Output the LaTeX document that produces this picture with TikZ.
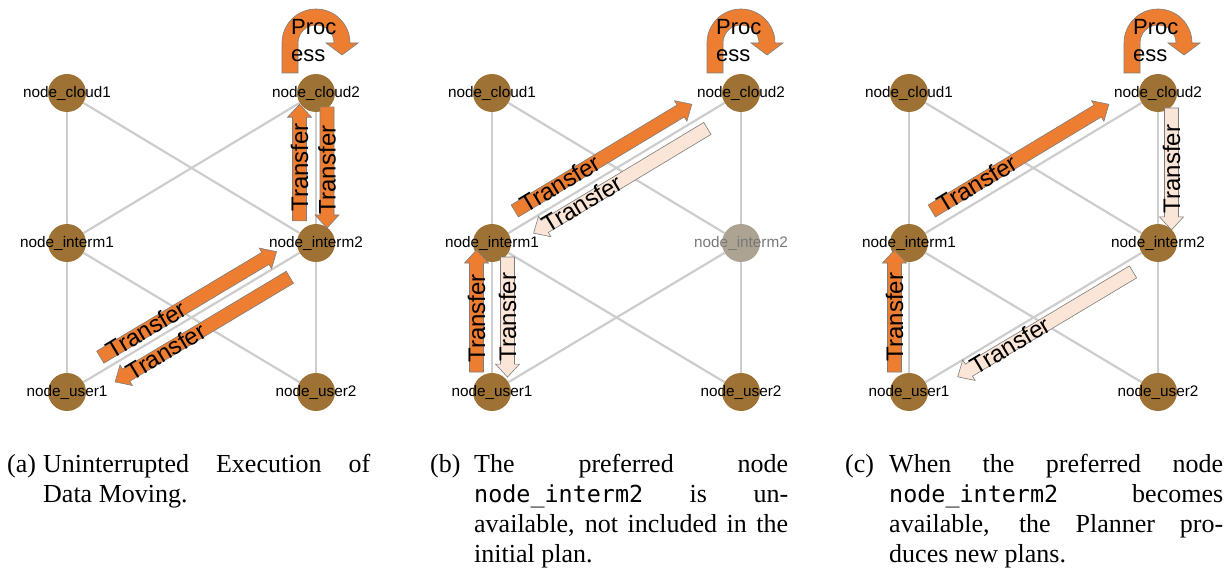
\documentclass[tikz,border=0pt]{standalone}
\usepackage{fontspec}
\setmainfont{Liberation Serif}
\setsansfont{Liberation Sans}
\setmonofont{DejaVu Sans Mono}[Scale=0.9]
\usetikzlibrary{
  calc,
  backgrounds
}

\definecolor{hostbrown}{RGB}{157,114,52}
\definecolor{offgray}{RGB}{172,163,146}
\definecolor{offtext}{RGB}{120,120,120}
\definecolor{linkgray}{RGB}{205,205,205}
\definecolor{xferorange}{RGB}{237,125,49}
\definecolor{xferlight}{RGB}{251,229,214}
\definecolor{xferedge}{RGB}{125,125,125}

% block arrow: style, from, to, side shift, start, end, text options
\newcommand{\xfer}[7]{%
  \coordinate (xs) at ($(#2)!#5!(#3)!#4!90:(#3)$);
  \coordinate (xe) at ($(#2)!#6!(#3)!#4!90:(#3)$);
  \draw[#1] ($(xs)!7pt!90:(xe)$) -- ($(xe)!13pt!(xs)!7pt!90:(xe)$)
    -- ($(xe)!13pt!(xs)!12pt!90:(xe)$) -- (xe)
    -- ($(xe)!13pt!(xs)!12pt!-90:(xe)$) -- ($(xe)!13pt!(xs)!7pt!-90:(xe)$)
    -- ($(xs)!7pt!-90:(xe)$) -- cycle;
  \path (xs) -- (xe) node[tlbl, sloped, allow upside down, #7] {Transfer};
}

\begin{document}
\begin{tikzpicture}[
      x=1pt, y=1pt,
      host/.style={
         circle,
         fill=hostbrown,
         minimum size=38pt,
         inner sep=0pt
      },
      hostdown/.style={host, fill=offgray},
      lbl/.style={font=\sffamily\fontsize{15.3}{15}\selectfont, inner sep=0pt},
      link/.style={draw=linkgray, line width=2.2pt},
      moved/.style={fill=xferorange, draw=xferedge, line width=0.6pt},
      planned/.style={fill=xferlight, draw=xferedge, line width=0.6pt},
      tlbl/.style={font=\sffamily\fontsize{24}{24}\selectfont, inner sep=0pt},
      plbl/.style={font=\sffamily\fontsize{22}{27}\selectfont, align=left, inner sep=0pt},
      turned/.style={rotate=180},
      captag/.style={font=\fontsize{26}{30}\selectfont, inner sep=0pt},
      captxt/.style={captag, text width=#1, align=justify}
    ]
    \useasboundingbox (0,0) rectangle (1229,-572);

    \foreach \p/\x/\st/\lc in {a/0/host/black, b/425/hostdown/offtext, c/842/host/black} {
      \node[host, label={[lbl]center:node\_cloud1}] (\p-cloud1) at (\x+67,-93) {};
      \node[host, label={[lbl]center:node\_cloud2}] (\p-cloud2) at (\x+316,-93) {};
      \node[host, label={[lbl]center:node\_interm1}] (\p-interm1) at (\x+67,-243) {};
      \node[\st, label={[lbl,text=\lc]center:node\_interm2}] (\p-interm2) at (\x+316,-243) {};
      \node[host, label={[lbl]center:node\_user1}] (\p-user1) at (\x+67,-392) {};
      \node[host, label={[lbl]center:node\_user2}] (\p-user2) at (\x+316,-392) {};
      % process step on node_cloud2
      \begin{scope}[shift={(\p-cloud2)}]
        \draw[moved] (-34,20) -- (-34,50) arc[start angle=180, end angle=0, radius=34]
          -- (42,50) -- (26,38) -- (10,50) -- (18,50)
          arc[start angle=0, end angle=180, radius=18] -- (-18,20) -- cycle;
        \node[plbl, anchor=west] (\p-proc) at (-25,52) {Proc\\ess};
      \end{scope}
    }

    \begin{scope}[on background layer]
      \foreach \p in {a,b,c}
        \foreach \s/\t in {cloud1/interm1, cloud1/interm2, cloud2/interm1, cloud2/interm2,
                           interm1/user1, interm1/user2, interm2/user1, interm2/user2}
          \draw[link] (\p-\s) -- (\p-\t);
    \end{scope}

    % (a)
    \xfer{moved}{a-interm2}{a-cloud2}{16.5pt}{.147}{.925}{pos=.46}
    \xfer{moved}{a-cloud2}{a-interm2}{11pt}{.093}{.9}{pos=.52, turned}
    \xfer{moved}{a-user1}{a-interm2}{12.8pt}{.16}{.868}{pos=.26}
    \xfer{moved}{a-interm2}{a-user1}{16pt}{.138}{.84}{pos=.71, turned}
    % (b)
    \xfer{moved}{b-interm1}{b-cloud2}{15.7pt}{.124}{.835}{pos=.256}
    \xfer{planned}{b-cloud2}{b-interm1}{13pt}{.162}{.86}{pos=.72, turned}
    \xfer{moved}{b-user1}{b-interm1}{15.5pt}{.134}{.953}{pos=.44}
    \xfer{planned}{b-interm1}{b-user1}{15.5pt}{.094}{.9}{pos=.5, turned}
    % (c)
    \xfer{moved}{c-interm1}{c-cloud2}{15.7pt}{.124}{.835}{pos=.256}
    \xfer{planned}{c-cloud2}{c-interm2}{13.5pt}{.1}{.913}{pos=.5, turned}
    \xfer{planned}{c-interm2}{c-user1}{12pt}{.125}{.829}{pos=.70, turned}
    \xfer{moved}{c-user1}{c-interm1}{14.5pt}{.134}{.953}{pos=.45}

    \node[captag, anchor=base west] (capa-tag) at (7,-472) {(a)};
    \node[captxt=327pt, anchor=base west] (capa) at (43,-472)
      {Uninterrupted Execution of\linebreak Data Moving.};
    \node[captag, anchor=base west] (capb-tag) at (430,-472) {(b)};
    \node[captxt=314pt, anchor=base west] (capb) at (474,-472)
      {The preferred node\linebreak \texttt{node\_interm2} is un-\linebreak available, not included in the\linebreak initial plan.};
    \node[captag, anchor=base west] (capc-tag) at (845,-472) {(c)};
    \node[captxt=334pt, anchor=base west] (capc) at (889,-472)
      {When the preferred node\linebreak \texttt{node\_interm2} becomes\linebreak available, the Planner pro-\linebreak duces new plans.};
\end{tikzpicture}
\end{document}
